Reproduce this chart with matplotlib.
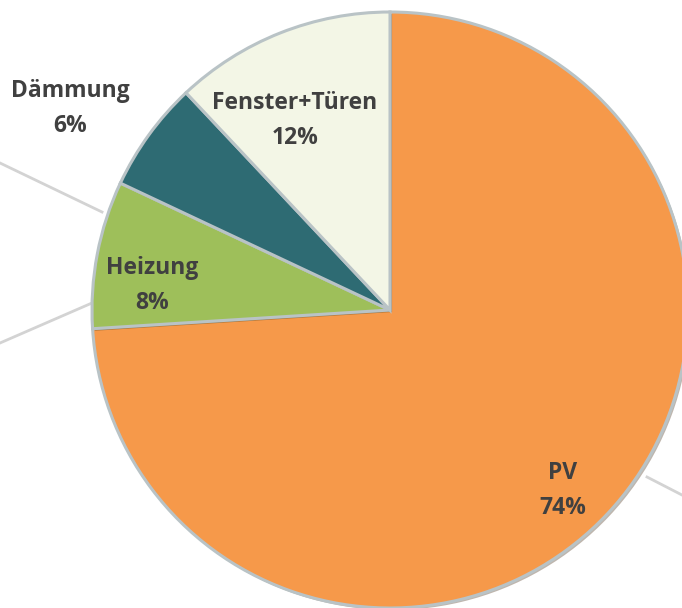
import numpy as np
import matplotlib.pyplot as plt
import matplotlib.patheffects as pe

# ── Daten ────────────────────────────────────────────────────
kategorien = ['PV', 'Heizung', 'Dämmung', 'Fenster+Türen']
anteile = [74, 8, 6, 12]
farben = ['#F6994A', '#9EBF5A', '#2E6B73', '#F3F6E6']

# ── Layout (Pixel, Ursprung unten links) ─────────────────────
W, H = 682, 608
MITTE = (390, H - 310)
RADIUS = 298
# Label-Mittelpunkte (x, y) in Pixel von oben gemessen
label_pos = [(563, 490), (152, 285), (70, 108), (295, 120)]
# Leitlinien (Fragmente) hinter dem Kreis
leitlinien = [((0, 163), (102, 212)), ((0, 343), (92, 303)),
              ((647, 477), (682, 495))]

fig = plt.figure(figsize=(W / 100, H / 100), dpi=100)
ax = fig.add_axes([0, 0, 1, 1])

for (x0, y0), (x1, y1) in leitlinien:
    ax.plot([x0, x1], [H - y0, H - y1], color='#D3D3D3', lw=2, zorder=1)

wedges, _ = ax.pie(anteile, colors=farben, startangle=90, counterclock=False,
                   center=MITTE, radius=RADIUS, frame=True,
                   wedgeprops=dict(edgecolor='#B9C3C6', linewidth=2.2))
for w in wedges:
    w.set_zorder(2)
    w.set_path_effects([pe.SimplePatchShadow(offset=(1.5, -1.5), alpha=0.35),
                        pe.Normal()])
ax.set_xlim(0, W)
ax.set_ylim(0, H)
ax.set_aspect('equal')
ax.axis('off')

for name, wert, (x, y) in zip(kategorien, anteile, label_pos):
    ax.text(x, H - y + 17, name, ha='center', va='center', fontsize=16.5,
            fontweight='bold', family='Open Sans', color='#404040', zorder=5)
    ax.text(x, H - y - 18, f'{wert}%', ha='center', va='center', fontsize=16.5,
            fontweight='bold', family='Open Sans', color='#404040', zorder=5)

fig.savefig('out.png', dpi=100)
